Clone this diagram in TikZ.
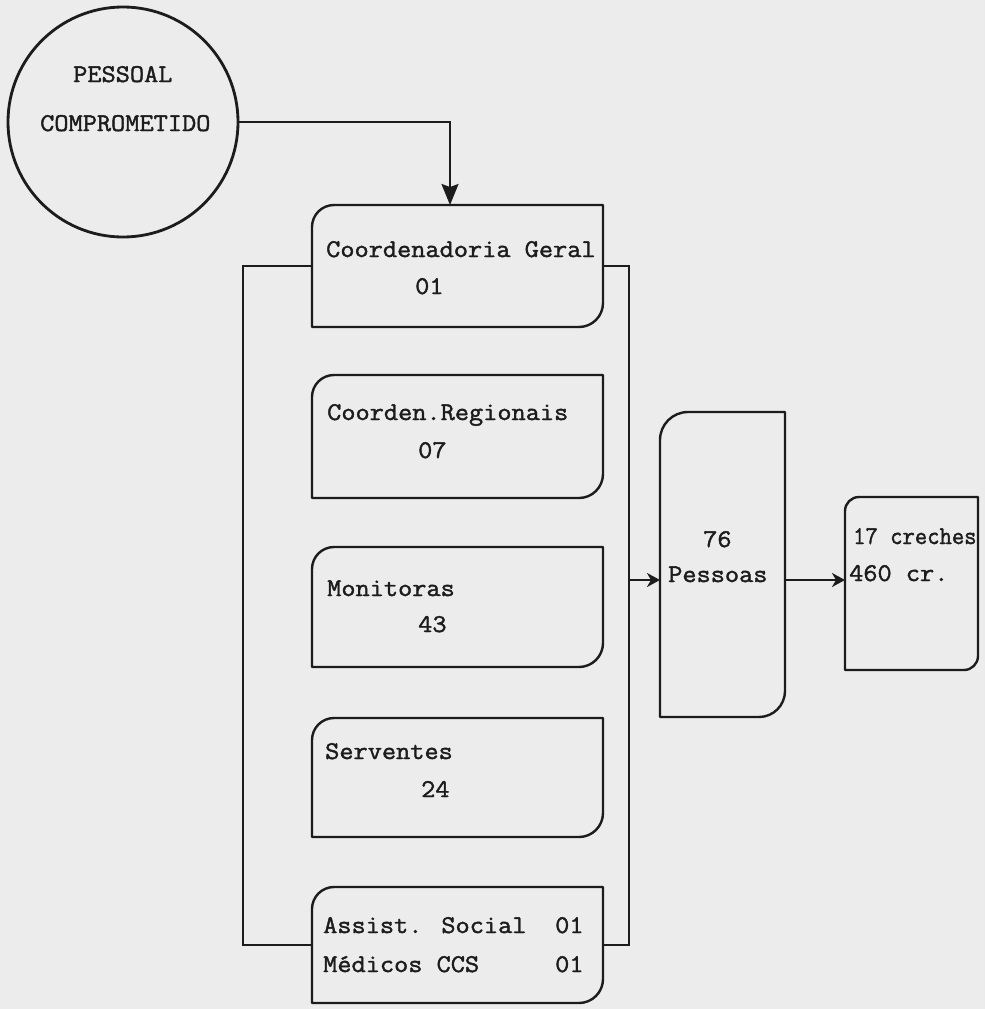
\documentclass[tikz,border=0pt]{standalone}
\usepackage{fontspec}
\newfontfamily\tw[FakeBold=1.6,FakeStretch=1.08]{Latin Modern Mono}
\usetikzlibrary{arrows.meta,calc}
\definecolor{paper}{RGB}{236,236,236}
\definecolor{ink}{RGB}{28,28,28}
\tikzset{
  boxline/.style={draw=ink,line width=2.4pt,line join=round},
  conn/.style={draw=ink,line width=2pt},
  txt/.style={font=\tw\fontsize{25.5}{25.5}\selectfont,text=ink,inner sep=0pt,anchor=base west},
  bigtip/.style={-{Stealth[length=21pt,width=17pt,inset=3pt]}},
  smalltip/.style={-{Stealth[length=13pt,width=14pt,inset=4pt]}}
}
% name, x1, y1, x2, y2, radius top-left, radius bottom-right
\newcommand\rbox[7]{%
  \node[inner sep=0pt,outer sep=0pt,minimum width={(#4-#2)*1pt},minimum height={(#5-#3)*1pt}] (#1) at ({(#2+#4)/2},{(#3+#5)/2}) {};
  \draw[boxline] (#2,#5) -- (#2,{#3+#6}) .. controls (#2,{#3+0.448*#6}) and ({#2+0.448*#6},#3) .. ({#2+#6},#3) -- (#4,#3) -- (#4,{#5-#7}) .. controls (#4,{#5-0.448*#7}) and ({#4-0.448*#7},#5) .. ({#4-#7},#5) -- cycle;
}
\begin{document}
\begin{tikzpicture}[x=1pt,y=-1pt]
\useasboundingbox (0,0) rectangle (985,1009);
\fill[paper] (0,0) rectangle (985,1009);

% circle
\node[circle,draw=ink,line width=2.8pt,minimum size=230pt,inner sep=0pt] (c) at (123,122) {};
\node[txt] (cA) at (73,82) {PESSOAL};
\node[txt] (cB) at (40,131) {COMPROMETIDO};

% boxes
\rbox{b1}{312}{205}{603}{327}{22}{24}
\rbox{b2}{312}{375}{603}{498}{22}{24}
\rbox{b3}{312}{547}{603}{667}{22}{24}
\rbox{b4}{312}{718}{603}{837}{22}{24}
\rbox{b5}{312}{887}{603}{1003}{22}{24}
\rbox{pes}{660}{412}{785}{717}{28}{26}
\rbox{cre}{845}{497}{978}{670}{14}{14}

% texts
\node[txt] (t1a) at (326,257) {Coordenadoria Geral};
\node[txt] (t1b) at (415,294) {01};
\node[txt] (t2a) at (327,420) {Coorden.Regionais};
\node[txt] (t2b) at (418,458) {07};
\node[txt] (t3a) at (327,596) {Monitoras};
\node[txt] (t3b) at (418,632) {43};
\node[txt] (t4a) at (325,759) {Serventes};
\node[txt] (t4b) at (421,797) {24};
\node[txt] (t5a) at (323,933) {Assist. Social};
\node[txt] (t5b) at (555,933) {01};
\node[txt] (t5c) at (323,972) {Médicos CCS};
\node[txt] (t5d) at (555,972) {01};
\node[txt] (p1) at (703,547) {76};
\node[txt] (p2) at (668,582) {Pessoas};
\node[txt] (q1) at (853,544) {\scalebox{0.87}[1]{17 creches}};
\node[txt] (q2) at (849,581) {460 cr.};

% connectors
\coordinate (ax) at (450,0);
\draw[conn,bigtip] (c.east) -| (b1.north -| ax);

\coordinate (lbx) at (243,0);
\draw[conn] (b1.west) -| (lbx |- b5.west) -- (b5.west);

\coordinate (rbx) at (629,0);
\draw[conn] (b1.east) -| (rbx |- b5.east) -- (b5.east);

\coordinate (jn) at (629,580);
\draw[conn,smalltip] (jn) -- (jn -| pes.west);
\draw[conn,smalltip] (pes.east |- jn) -- (cre.west |- jn);
\end{tikzpicture}
\end{document}
